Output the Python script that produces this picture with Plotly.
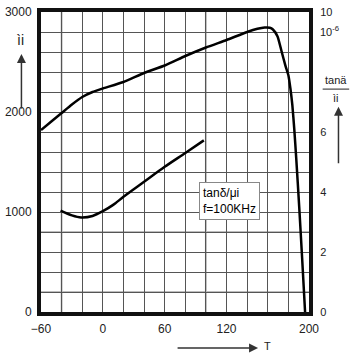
import plotly.graph_objects as go

# --- data ---
T_mu = [-60, -50, -40, -30, -20, -10, 0, 20, 40, 60, 80, 100, 120, 140, 150, 157, 162, 165, 169.5, 173.3, 177.1, 180, 181.9, 183.8, 185.7, 187.6, 190.5, 193.3, 196.2]
mu_i = [1820, 1905, 1990, 2075, 2150, 2200, 2235, 2300, 2390, 2465, 2560, 2645, 2720, 2800, 2832, 2845, 2843, 2825, 2756, 2610, 2464, 2367, 2240, 2074, 1831, 1539, 1052, 545, 0]

T_loss = [-41, -30, -21, -10, 0, 10, 20, 40, 60, 80, 98]
tan_loss = [3.38, 3.22, 3.15, 3.2, 3.36, 3.57, 3.84, 4.34, 4.84, 5.3, 5.72]

x_ticks = [-60, 0, 60, 120, 200]
y_ticks = [0, 1000, 2000, 3000]
y2_ticks = [0, 2, 4, 6, 10]
gray_x = [-40, 100]
gray_y = [200, 800]

FONT = "Liberation Sans, Arial, sans-serif"
TXT = "#222222"

fig = go.Figure()
fig.add_trace(go.Scatter(x=T_mu, y=mu_i, mode="lines",
                         line=dict(color="black", width=2.5, shape="spline", smoothing=0.5),
                         showlegend=False, hoverinfo="skip"))
fig.add_trace(go.Scatter(x=T_loss, y=tan_loss, mode="lines", yaxis="y2",
                         line=dict(color="black", width=2.5, shape="spline", smoothing=0.8),
                         showlegend=False, hoverinfo="skip"))

shapes = []
for gx in gray_x:
    shapes.append(dict(type="line", xref="x", yref="paper", x0=gx, x1=gx, y0=0, y1=1,
                       line=dict(color="#bdbdbd", width=2), layer="below"))
for gy in gray_y:
    shapes.append(dict(type="line", xref="paper", yref="y", x0=0, x1=1, y0=gy, y1=gy,
                       line=dict(color="#bdbdbd", width=2), layer="below"))
# fraction bar for right label
shapes.append(dict(type="line", xref="paper", yref="paper", x0=1.051, x1=1.150, y0=0.743, y1=0.743,
                   line=dict(color=TXT, width=1)))


def label(text, x, y, size=11, **kw):
    d = dict(text=text, x=x, y=y, xref="paper", yref="paper", showarrow=False,
             xanchor="center", yanchor="middle", font=dict(size=size, color=TXT, family=FONT))
    d.update(kw)
    return d


def arrow(x, y, ax, ay):
    return dict(text="", x=x, y=y, xref="paper", yref="paper", showarrow=True,
                ax=ax, ay=ay, arrowhead=2, arrowsize=1.2, arrowwidth=1.5, arrowcolor="#333")


ann = [
    label("ìi", -0.077, 0.905, size=14),
    arrow(-0.073, 0.86, 0, 56),
    label("tanä", 1.099, 0.772, size=11),
    label("ìi", 1.099, 0.715, size=11),
    arrow(1.110, 0.684, 0, 58),
    label("10<sup>-6</sup>", 1.032, 0.935, size=11, xanchor="left"),
    arrow(0.81, -0.12, -82, 0),
    label("T", 0.846, -0.112, size=11),
    dict(text="tanδ/μi<br>f=100KHz", x=0.703, y=0.37, xref="paper", yref="paper",
         xanchor="center", yanchor="middle",
         showarrow=False, align="left", bgcolor="white", bordercolor="#888", borderwidth=1,
         borderpad=3, font=dict(size=12, color="black", family=FONT)),
]

fig.update_layout(
    width=352, height=354,
    margin=dict(l=36, r=43, t=5, b=42),
    paper_bgcolor="white", plot_bgcolor="white",
    font=dict(family=FONT, size=12, color=TXT),
    xaxis=dict(range=[-60, 200], tickvals=x_ticks, showgrid=False, zeroline=False,
               showline=True, linewidth=4, linecolor="#111", mirror=True,
               ticks="outside", ticklen=3, tickcolor="rgba(0,0,0,0)",
               minor=dict(dtick=20, tick0=-60, showgrid=True, gridcolor="#555", gridwidth=1),
               tickfont=dict(size=12, color=TXT)),
    yaxis=dict(range=[0, 3000], tickvals=y_ticks, showgrid=False, zeroline=False,
               showline=True, linewidth=4, linecolor="#111", mirror=True,
               ticks="outside", ticklen=3, tickcolor="rgba(0,0,0,0)",
               minor=dict(dtick=200, tick0=0, showgrid=True, gridcolor="#555", gridwidth=1),
               tickfont=dict(size=12, color=TXT)),
    yaxis2=dict(range=[0, 10], tickvals=y2_ticks, overlaying="y", side="right",
                showgrid=False, zeroline=False, showline=False,
                ticks="outside", ticklen=8, tickcolor="rgba(0,0,0,0)",
                tickfont=dict(size=11, color=TXT)),
    shapes=shapes, annotations=ann,
)

fig.write_html("out.html")
